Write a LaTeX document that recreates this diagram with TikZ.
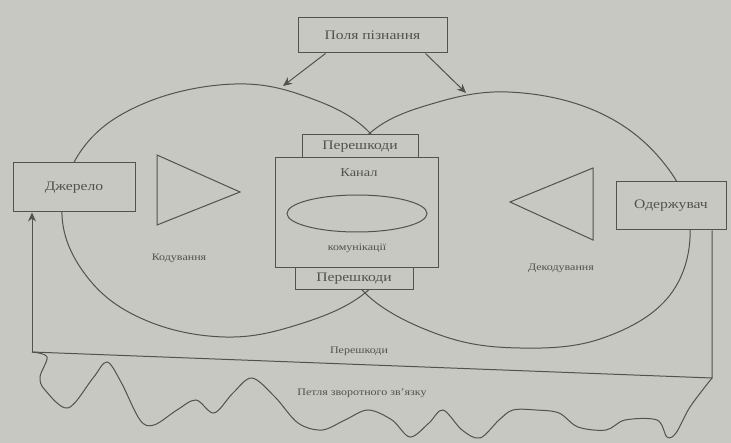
\documentclass[tikz,border=0pt]{standalone}
\usepackage{fontspec}
\setmainfont{Liberation Serif}
\usetikzlibrary{shapes.geometric,arrows.meta}
\definecolor{paper}{RGB}{200,200,194}
\definecolor{ink}{RGB}{82,82,78}
\newcommand{\hstr}[1]{\scalebox{1.2}[1]{#1}}
\begin{document}
\begin{tikzpicture}[x=1pt,y=-1pt,line width=1pt,
  box/.style={draw=ink,fill=paper,text=ink,font=\fontsize{13}{14}\selectfont,inner sep=0pt},
  lbl/.style={text=ink,font=\fontsize{10}{11}\selectfont,inner sep=0pt},
  lobe/.style={draw=ink},
  arr/.style={draw=ink,-{Stealth[length=9pt,width=8pt]}}]
\fill[paper] (0,0) rectangle (731,443);
\useasboundingbox (0,0) rectangle (731,443);
% lobes
\draw[lobe] plot[smooth cycle,tension=0.65] coordinates {(370,133) (398,190) (398,245) (365,293) (300,324) (225,337) (145,320) (88,278) (62,215) (83,148) (145,103) (235,84) (310,98)};
\draw[lobe] plot[smooth cycle,tension=0.65] coordinates {(370,133) (428,105) (508,92) (598,112) (663,162) (690,225) (670,295) (603,338) (520,348) (440,335) (365,293) (340,235) (343,178)};
% top box
\node[box,minimum width=149pt,minimum height=35pt] (field) at (372.5,35.5) {\hstr{Поля пізнання}};
\coordinate (tipL) at (283,86);
\coordinate (tipR) at (466,93);
\draw[arr] ([xshift=-47pt]field.south) -- (tipL);
\draw[arr] ([xshift=53pt]field.south) -- (tipR);
% channel
\node[box,minimum width=116pt,minimum height=23pt] (noiseT) at (360,146.5) {\hstr{Перешкоди}};
\node[box,minimum width=118pt,minimum height=22pt] (noiseB) at (354,279) {\hstr{Перешкоди}};
\node[box,minimum width=163pt,minimum height=110pt] (chan) at (356.5,213) {};
\node[lbl,font=\fontsize{12}{13}\selectfont] (chanT) at (359,173) {\hstr{Канал}};
\node[draw=ink,ellipse,minimum width=140pt,minimum height=37pt,inner sep=0pt] (chov) at (357,213.5) {};
\node[lbl] (comm) at (357,248) {\hstr{комунікації}};
% source / receiver
\node[box,minimum width=122pt,minimum height=49pt] (src) at (74,187.5) {\hstr{Джерело}};
\node[box,minimum width=110pt,minimum height=48pt] (recv) at (671,206) {\hstr{Одержувач}};
% triangles
\draw[ink] (157,155) -- (240,192) -- (157,225) -- cycle;
\draw[ink] (593,168) -- (510,202) -- (593,240) -- cycle;
\node[lbl] (enc) at (179,258) {\hstr{Кодування}};
\node[lbl] (dec) at (561,268) {\hstr{Декодування}};
% feedback
\coordinate (fbR) at (712,378);
\coordinate (fbL) at (32,352);
\draw[ink] (recv.south -| fbR) -- (fbR) -- (fbL);
\draw[arr] (fbL) -- (src.south -| fbL);
\node[lbl] (noiseF) at (359,351) {\hstr{Перешкоди}};
\node[lbl] (loop) at (362,393) {\hstr{Петля зворотного зв'язку}};
\draw[ink] plot[smooth,tension=0.55] coordinates {(32,352) (47,357) (40,377) (45,390) (68,408) (93,378) (107,362) (121,382) (140,420) (154,425) (177,410) (196,400) (214,413) (233,393) (252,378) (275,397) (298,423) (322,430) (345,420) (368,410) (392,420) (410,437) (429,423) (443,410) (462,430) (480,438) (499,420) (513,410) (536,410) (559,413) (578,427) (606,430) (625,420) (657,420) (667,437) (676,433) (690,407) (712,378)};
\end{tikzpicture}
\end{document}
